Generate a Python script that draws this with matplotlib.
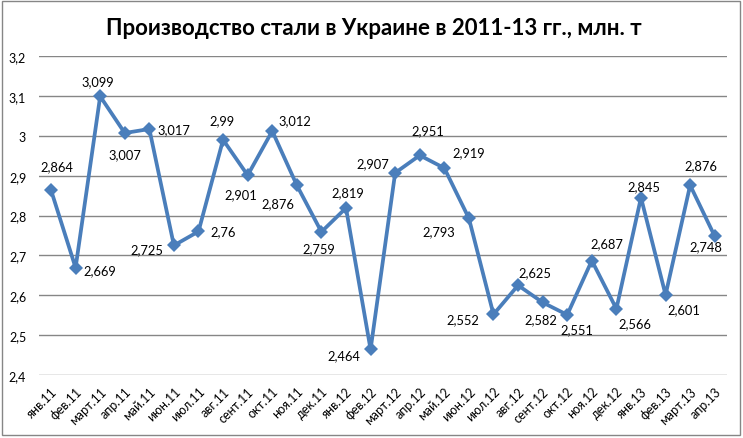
import matplotlib.pyplot as plt
from matplotlib.patches import Rectangle
from matplotlib.ticker import FuncFormatter

# Производство стали, млн. т (значения с подписей данных)
months = [
    "янв.11", "фев.11", "март.11", "апр.11", "май.11", "июн.11", "июл.11",
    "авг.11", "сент.11", "окт.11", "ноя.11", "дек.11", "янв.12", "фев.12",
    "март.12", "апр.12", "май.12", "июн.12", "июл.12", "авг.12", "сент.12",
    "окт.12", "ноя.12", "дек.12", "янв.13", "фев.13", "март.13", "апр.13",
]
steel = [
    2.864, 2.669, 3.099, 3.007, 3.017, 2.725, 2.760,
    2.990, 2.901, 3.012, 2.876, 2.759, 2.819, 2.464,
    2.907, 2.951, 2.919, 2.793, 2.552, 2.625, 2.582,
    2.551, 2.687, 2.566, 2.845, 2.601, 2.876, 2.748,
]
y_ticks = [2.4, 2.5, 2.6, 2.7, 2.8, 2.9, 3.0, 3.1, 3.2]

# смещения подписей (пиксели, dx, dy вверх) — как в исходной диаграмме
label_offsets = [
    (6, 24), (24, -2), (-2, 15), (0, -21), (25, 0), (-27, -4), (25, 0),
    (-1, 20), (-7, -19), (23, 11), (-19, -18), (-3, -16), (2, 16), (-27, -6),
    (-22, 10), (8, 25), (24, 16), (-30, -13), (-31, -5), (17, 13), (-2, -17),
    (10, -14), (15, 17), (18, -14), (3, 11), (18, -14), (11, 20), (-9, -10),
]


def fmt_ru(v, _pos=None):
    s = f"{v:.3f}".rstrip("0").rstrip(".")
    return s.replace(".", ",")


plt.rcParams["font.family"] = ["Lato", "DejaVu Sans"]

fig = plt.figure(figsize=(7.43, 4.39), dpi=100)
ax = fig.add_axes([0.0521, 0.1435, 0.9264, 0.7265])

x = list(range(len(months)))
ax.plot(x, steel, color="#4A7EBB", lw=2.7, marker="D", ms=7,
        markeredgewidth=0, zorder=3)

for xi, v, (dx, dy) in zip(x, steel, label_offsets):
    ax.annotate(fmt_ru(v), (xi, v), xytext=(dx, dy), textcoords="offset pixels",
                ha="center", va="center", fontsize=9.3, color="black")

ax.set_xlim(-0.5, len(months) - 0.5)
ax.set_ylim(2.4, 3.2)
ax.set_yticks(y_ticks)
ax.yaxis.set_major_formatter(FuncFormatter(fmt_ru))
ax.set_xticks(x)
ax.set_xticklabels(months, rotation=45, ha="right", rotation_mode="anchor",
                   fontsize=9)
ax.tick_params(axis="both", length=0)
ax.tick_params(axis="x", pad=7)
ax.tick_params(axis="y", labelsize=9, pad=9)
ax.grid(axis="y", color="#868686", lw=1.0)
ax.set_axisbelow(True)
for sp in ax.spines.values():
    sp.set_visible(False)

fig.text(0.503, 0.935, "Производство стали в Украине в 2011-13 гг., млн. т",
         ha="center", va="center", fontsize=16, fontweight="bold")

# рамка вокруг диаграммы
fig.patches.append(Rectangle((0.003, 0.006), 0.993, 0.989, transform=fig.transFigure,
                             fill=False, edgecolor="#868686", lw=1.0))

fig.savefig("out.png", dpi=100)
